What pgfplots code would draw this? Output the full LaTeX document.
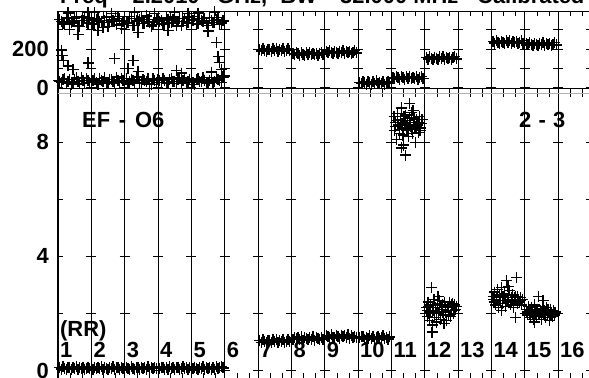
\documentclass[border=0pt]{standalone}
\usepackage{fontspec}
\setmainfont{Liberation Sans}
\usepackage{pgfplots}
\pgfplotsset{compat=1.18}
\begin{document}
\begin{tikzpicture}[font=\fontsize{22}{24}\selectfont\bfseries]
\pgfplotsset{
  cls/.style={
    scale only axis, width=533.333bp,
    xmin=0, xmax=16,
    xtick={0,...,16}, xticklabels={},
    minor xtick={0.37,0.73,1.37,1.73,2.37,2.73,3.37,3.73,4.37,4.73,5.37,5.73,6.37,6.73,7.37,7.73,8.37,8.73,9.37,9.73,10.37,10.73,11.37,11.73,12.37,12.73,13.37,13.73,14.37,14.73,15.37,15.73},
    major tick length=0pt,
    xmajorgrids, ymajorgrids,
    x grid style={black, line width=0.9bp},
    y grid style={black, line width=0.9bp, dash pattern=on 10bp off 23.333bp, dash phase=5bp},
    axis line style={black, line width=1.1bp},
    every minor tick/.append style={black, line width=0.9bp},
    yticklabel style={font=\fontsize{22}{24}\selectfont\bfseries, inner sep=0pt},
    yticklabel shift=9bp,
  },
  pts/.style={black, only marks, mark=+, mark size=5.5bp, mark options={line width=1.3bp}},
}
% ---------------- upper panel (phase) ----------------
\begin{axis}[cls, at={(58bp,-11.7bp)}, anchor=north west, height=76.8bp,
  ymin=-5, ymax=394, ytick={0,100,200,300}, yticklabels={0,,200,},
  minor tick length=4bp, xtick pos=right]
% columns 1-5: upper band
\addplot[pts] coordinates {(0.05,352)(0.15,335)(0.25,361)(0.35,328)(0.45,345)(0.55,370)(0.65,318)(0.75,349)(0.85,338)(0.95,362)
(1.05,331)(1.15,355)(1.25,342)(1.35,312)(1.45,366)(1.55,339)(1.65,350)(1.75,325)(1.85,358)(1.95,344)
(2.05,336)(2.15,368)(2.25,322)(2.35,347)(2.45,356)(2.55,333)(2.65,372)(2.75,340)(2.85,327)(2.95,353)
(3.05,345)(3.15,330)(3.25,364)(3.35,338)(3.45,351)(3.55,320)(3.65,359)(3.75,343)(3.85,334)(3.95,367)
(4.05,348)(4.15,326)(4.25,357)(4.35,341)(4.45,332)(4.55,363)(4.65,337)(4.75,354)(4.85,329)(4.95,346)
(0.30,388)(0.90,392)(1.60,386)(2.30,390)(2.90,385)(3.50,391)(4.20,387)(4.70,393)(1.10,389)(3.90,386)
(0.35,300)(0.60,275)(1.20,295)(1.90,305)(2.40,285)(3.30,298)(4.50,293)};
\addplot[pts] coordinates {(0.10,344)(0.20,329)(0.30,357)(0.40,336)(0.50,362)(0.60,321)(0.70,348)(0.80,367)(0.90,333)(1.00,351)
(1.10,326)(1.20,360)(1.30,339)(1.40,347)(1.50,316)(1.60,355)(1.70,342)(1.80,369)(1.90,330)(2.00,350)
(2.10,337)(2.20,358)(2.30,324)(2.40,345)(2.50,365)(2.60,334)(2.70,352)(2.80,319)(2.90,341)(3.00,361)
(3.10,349)(3.20,327)(3.30,356)(3.40,336)(3.50,366)(3.60,343)(3.70,323)(3.80,358)(3.90,339)(4.00,353)
(4.10,368)(4.20,331)(4.30,346)(4.40,360)(4.50,324)(4.60,350)(4.70,338)(4.80,364)(4.90,335)};
% columns 1-5: lower band
\addplot[pts] coordinates {(0.02,38)(0.10,25)(0.20,46)(0.30,30)(0.40,18)(0.50,42)(0.60,33)(0.70,52)(0.80,21)(0.90,37)
(1.00,29)(1.10,45)(1.20,15)(1.30,36)(1.40,50)(1.50,27)(1.60,40)(1.70,22)(1.80,34)(1.90,48)
(2.00,31)(2.10,19)(2.20,43)(2.30,28)(2.40,55)(2.50,24)(2.60,39)(2.70,47)(2.80,16)(2.90,35)
(3.00,44)(3.10,26)(3.20,37)(3.30,20)(3.40,49)(3.50,32)(3.60,41)(3.70,23)(3.80,53)(3.90,30)
(4.00,36)(4.10,17)(4.20,45)(4.30,29)(4.40,38)(4.50,22)(4.60,51)(4.70,33)(4.80,42)(4.90,26)(4.98,60)
(0.10,195)(0.12,165)(0.16,140)(0.30,112)(0.45,95)(0.90,128)(1.70,150)(2.10,100)(2.25,140)(2.40,85)
(3.55,90)(3.70,75)(4.75,235)(4.80,160)(4.85,130)(4.90,95)(4.60,80)};
\addplot[pts] coordinates {(0.05,31)(0.15,44)(0.25,22)(0.35,40)(0.45,28)(0.55,50)(0.65,19)(0.75,36)(0.85,47)(0.95,26)
(1.05,39)(1.15,24)(1.25,48)(1.35,30)(1.45,21)(1.55,43)(1.65,33)(1.75,54)(1.85,25)(1.95,38)
(2.05,46)(2.15,29)(2.25,35)(2.35,52)(2.45,23)(2.55,41)(2.65,30)(2.75,18)(2.85,45)(2.95,27)
(3.05,37)(3.15,49)(3.25,24)(3.35,42)(3.45,31)(3.55,20)(3.65,46)(3.75,34)(3.85,27)(3.95,44)
(4.05,25)(4.15,40)(4.25,32)(4.35,51)(4.45,21)(4.55,39)(4.65,28)(4.75,47)(4.85,36)(4.95,55)};
% column 7
\addplot[pts] coordinates {(6.05,197)(6.10,190)(6.15,203)(6.20,193)(6.25,187)(6.30,200)(6.35,196)(6.40,186)(6.45,202)(6.50,192)(6.55,205)(6.60,189)(6.65,198)(6.70,194)(6.75,201)(6.80,188)(6.85,195)(6.90,204)(6.95,191)};
% column 8
\addplot[pts] coordinates {(7.05,178)(7.10,171)(7.15,182)(7.20,175)(7.25,169)(7.30,180)(7.35,174)(7.40,168)(7.45,181)(7.50,173)(7.55,184)(7.60,170)(7.65,177)(7.70,172)(7.75,179)(7.80,167)(7.85,176)(7.90,183)(7.95,172)};
% column 9
\addplot[pts] coordinates {(8.05,186)(8.10,180)(8.15,190)(8.20,183)(8.25,177)(8.30,188)(8.35,182)(8.40,176)(8.45,189)(8.50,181)(8.55,192)(8.60,178)(8.65,185)(8.70,180)(8.75,187)(8.80,175)(8.85,184)(8.90,191)(8.95,180)};
% column 10
\addplot[pts] coordinates {(9.05,27)(9.10,20)(9.15,32)(9.20,24)(9.25,18)(9.30,30)(9.35,26)(9.40,17)(9.45,31)(9.50,22)(9.55,34)(9.60,19)(9.65,28)(9.70,23)(9.75,30)(9.80,17)(9.85,25)(9.90,33)(9.95,21)};
% column 11
\addplot[pts] coordinates {(10.05,53)(10.10,47)(10.15,57)(10.20,50)(10.25,44)(10.30,55)(10.35,51)(10.40,43)(10.45,56)(10.50,48)(10.55,59)(10.60,46)(10.65,52)(10.70,49)(10.75,55)(10.80,44)(10.85,51)(10.90,58)(10.95,47)};
% column 12
\addplot[pts] coordinates {(11.05,155)(11.10,148)(11.15,160)(11.20,152)(11.25,145)(11.30,158)(11.35,153)(11.40,144)(11.45,159)(11.50,150)(11.55,162)(11.60,147)(11.65,156)(11.70,151)(11.75,157)(11.80,146)(11.85,154)(11.90,161)(11.95,149)};
% column 14
\addplot[pts] coordinates {(13.05,238)(13.10,231)(13.15,243)(13.20,234)(13.25,228)(13.30,241)(13.35,236)(13.40,227)(13.45,242)(13.50,232)(13.55,245)(13.60,230)(13.65,238)(13.70,233)(13.75,240)(13.80,229)(13.85,236)(13.90,244)(13.95,231)};
% column 15
\addplot[pts] coordinates {(14.05,228)(14.10,221)(14.15,232)(14.20,224)(14.25,218)(14.30,230)(14.35,226)(14.40,217)(14.45,231)(14.50,222)(14.55,234)(14.60,220)(14.65,227)(14.70,223)(14.75,229)(14.80,219)(14.85,225)(14.90,233)(14.95,221)};
\end{axis}
% ---------------- lower panel (amplitude) ----------------
\begin{axis}[cls, at={(58bp,-88.5bp)}, anchor=north west, height=292.6bp,
  ymin=-0.37, ymax=9.88, ytick={0,2,4,6,8}, yticklabels={0,,4,,8},
  minor tick length=8bp]
\draw[gray!60, line width=0.8bp] (axis cs:0,9.71) -- (axis cs:16,9.71);
% columns 1-5
\addplot[pts] coordinates {(0.05,0.10)(0.10,0.05)(0.15,0.13)(0.20,0.07)(0.25,0.04)(0.30,0.10)(0.35,0.09)(0.40,0.03)(0.45,0.12)(0.50,0.06)(0.55,0.13)(0.60,0.04)(0.65,0.09)(0.70,0.07)(0.75,0.11)(0.80,0.03)(0.85,0.08)(0.90,0.12)(0.95,0.06)};
\addplot[pts] coordinates {(1.05,0.04)(1.10,0.09)(1.15,0.07)(1.20,0.12)(1.25,0.06)(1.30,0.13)(1.35,0.03)(1.40,0.10)(1.45,0.08)(1.50,0.05)(1.55,0.11)(1.60,0.07)(1.65,0.13)(1.70,0.03)(1.75,0.10)(1.80,0.09)(1.85,0.04)(1.90,0.12)(1.95,0.06)};
\addplot[pts] coordinates {(2.05,0.11)(2.10,0.08)(2.15,0.04)(2.20,0.13)(2.25,0.06)(2.30,0.04)(2.35,0.10)(2.40,0.09)(2.45,0.03)(2.50,0.12)(2.55,0.07)(2.60,0.10)(2.65,0.05)(2.70,0.13)(2.75,0.03)(2.80,0.12)(2.85,0.07)(2.90,0.09)(2.95,0.06)};
\addplot[pts] coordinates {(3.05,0.07)(3.10,0.12)(3.15,0.10)(3.20,0.03)(3.25,0.09)(3.30,0.05)(3.35,0.13)(3.40,0.06)(3.45,0.11)(3.50,0.03)(3.55,0.09)(3.60,0.12)(3.65,0.04)(3.70,0.08)(3.75,0.13)(3.80,0.06)(3.85,0.10)(3.90,0.04)(3.95,0.10)};
\addplot[pts] coordinates {(4.05,0.06)(4.10,0.12)(4.15,0.08)(4.20,0.03)(4.25,0.11)(4.30,0.07)(4.35,0.13)(4.40,0.04)(4.45,0.10)(4.50,0.07)(4.55,0.12)(4.60,0.03)(4.65,0.09)(4.70,0.05)(4.75,0.13)(4.80,0.07)(4.85,0.10)(4.90,0.14)(4.95,0.09)};
% columns 7-10
\addplot[pts] coordinates {(6.05,1.05)(6.10,0.99)(6.15,1.09)(6.20,1.02)(6.25,0.98)(6.30,1.06)(6.35,1.04)(6.40,0.97)(6.45,1.08)(6.50,1.01)(6.55,1.10)(6.60,0.99)(6.65,1.05)(6.70,1.02)(6.75,1.07)(6.80,0.98)(6.85,1.03)(6.90,1.09)(6.95,1.00)};
\addplot[pts] coordinates {(7.05,1.08)(7.10,1.14)(7.15,1.11)(7.20,1.17)(7.25,1.09)(7.30,1.18)(7.35,1.06)(7.40,1.14)(7.45,1.12)(7.50,1.08)(7.55,1.15)(7.60,1.10)(7.65,1.18)(7.70,1.06)(7.75,1.15)(7.80,1.13)(7.85,1.07)(7.90,1.16)(7.95,1.10)};
\addplot[pts] coordinates {(8.05,1.22)(8.10,1.19)(8.15,1.14)(8.20,1.25)(8.25,1.17)(8.30,1.15)(8.35,1.22)(8.40,1.20)(8.45,1.13)(8.50,1.24)(8.55,1.18)(8.60,1.21)(8.65,1.16)(8.70,1.25)(8.75,1.13)(8.80,1.23)(8.85,1.17)(8.90,1.20)(8.95,1.16)};
\addplot[pts] coordinates {(9.05,1.14)(9.10,1.20)(9.15,1.18)(9.20,1.09)(9.25,1.16)(9.30,1.12)(9.35,1.21)(9.40,1.13)(9.45,1.18)(9.50,1.09)(9.55,1.16)(9.60,1.19)(9.65,1.11)(9.70,1.15)(9.75,1.21)(9.80,1.12)(9.85,1.17)(9.90,1.10)(9.95,1.18)};
% column 11
\addplot[pts] coordinates {(10.08,8.9)(10.10,8.4)(10.13,8.7)(10.16,8.1)(10.19,9.0)(10.22,8.6)(10.25,8.3)(10.28,8.8)(10.30,9.2)(10.33,8.5)(10.36,7.9)(10.39,8.7)(10.42,8.95)(10.45,8.4)(10.48,8.75)(10.51,8.2)(10.54,8.85)(10.57,8.55)(10.60,9.05)(10.63,8.3)(10.66,8.7)(10.69,8.5)(10.72,8.0)(10.75,8.8)(10.78,8.6)(10.81,8.35)(10.84,8.9)(10.87,8.5)(10.90,8.65)(10.42,7.55)(10.55,9.35)(10.30,7.8)
(10.12,8.55)(10.18,8.75)(10.24,8.45)(10.32,8.65)(10.38,8.9)(10.44,8.6)(10.50,8.5)(10.56,8.7)(10.62,8.45)(10.68,8.85)(10.74,8.55)(10.80,8.7)(10.86,8.4)(10.92,8.8)(10.35,8.25)(10.65,9.1)};
% column 12
\addplot[pts] coordinates {(11.05,2.2)(11.08,1.9)(11.10,2.4)(11.13,2.0)(11.15,1.75)(11.18,2.3)(11.20,2.9)(11.23,1.6)(11.25,2.1)(11.28,2.5)(11.30,1.85)(11.33,2.2)(11.36,1.7)(11.39,2.35)(11.42,2.0)(11.45,2.45)(11.48,1.8)(11.51,2.15)(11.54,2.3)(11.57,1.95)(11.60,2.4)(11.63,2.05)(11.66,1.75)(11.69,2.25)(11.72,2.1)(11.75,2.4)(11.78,1.9)(11.81,2.2)(11.84,2.35)(11.87,2.0)(11.90,2.3)(11.93,2.15)(11.22,1.35)
(11.07,2.1)(11.12,2.25)(11.17,2.05)(11.27,2.3)(11.35,2.0)(11.44,2.2)(11.53,2.05)(11.62,2.25)(11.71,1.95)(11.80,2.3)(11.89,2.1)(11.95,2.25)(11.40,2.6)(11.58,1.65)};
% column 14
\addplot[pts] coordinates {(13.05,2.6)(13.08,2.4)(13.10,2.75)(13.13,2.3)(13.16,2.55)(13.19,2.85)(13.22,2.2)(13.25,2.65)(13.28,2.45)(13.31,2.9)(13.34,2.35)(13.37,2.6)(13.40,2.7)(13.43,2.25)(13.46,3.15)(13.49,2.5)(13.52,2.4)(13.55,2.8)(13.58,2.3)(13.61,2.55)(13.64,2.65)(13.67,2.2)(13.70,2.45)(13.73,2.6)(13.76,3.25)(13.79,2.35)(13.82,2.5)(13.85,2.4)(13.88,2.55)(13.91,2.3)(13.72,1.85)
(13.07,2.5)(13.15,2.45)(13.24,2.55)(13.33,2.6)(13.42,2.45)(13.51,2.65)(13.60,2.4)(13.69,2.55)(13.78,2.6)(13.87,2.45)(13.93,2.5)(13.50,2.95)(13.30,2.1)};
% column 15
\addplot[pts] coordinates {(14.05,2.15)(14.08,1.95)(14.11,2.25)(14.14,2.0)(14.17,1.85)(14.20,2.2)(14.23,2.05)(14.26,1.8)(14.29,2.3)(14.32,2.0)(14.35,1.9)(14.38,2.15)(14.41,2.6)(14.44,1.95)(14.47,2.1)(14.50,1.8)(14.53,2.25)(14.56,2.0)(14.59,2.1)(14.62,1.85)(14.65,2.2)(14.68,1.95)(14.71,2.05)(14.74,1.75)(14.77,2.15)(14.80,2.0)(14.83,1.9)(14.86,2.1)(14.89,1.95)(14.92,2.05)
(14.07,2.05)(14.16,2.1)(14.25,1.95)(14.34,2.1)(14.43,2.0)(14.52,2.05)(14.61,2.0)(14.70,2.15)(14.79,1.95)(14.88,2.05)(14.55,2.45)(14.30,1.7)};
% labels
\node[anchor=base west, inner sep=0pt] at (axis cs:0.72,8.53) {EF\hspace{0.4em}-\hspace{0.4em}O6};
\node[anchor=base west, inner sep=0pt] at (axis cs:13.83,8.53) {2\hspace{0.33em}-\hspace{0.33em}3};
\node[anchor=base west, inner sep=0pt] at (axis cs:0.06,1.18) {(RR)};
\node[anchor=base west, inner sep=0pt] at (axis cs:0.06,0.44) {1};
\node[anchor=base west, inner sep=0pt] at (axis cs:1.06,0.44) {2};
\node[anchor=base west, inner sep=0pt] at (axis cs:2.06,0.44) {3};
\node[anchor=base west, inner sep=0pt] at (axis cs:3.06,0.44) {4};
\node[anchor=base west, inner sep=0pt] at (axis cs:4.06,0.44) {5};
\node[anchor=base west, inner sep=0pt] at (axis cs:5.06,0.44) {6};
\node[anchor=base west, inner sep=0pt] at (axis cs:6.06,0.44) {7};
\node[anchor=base west, inner sep=0pt] at (axis cs:7.06,0.44) {8};
\node[anchor=base west, inner sep=0pt] at (axis cs:8.06,0.44) {9};
\node[anchor=base west, inner sep=0pt] at (axis cs:9.06,0.44) {10};
\node[anchor=base west, inner sep=0pt] at (axis cs:10.06,0.44) {11};
\node[anchor=base west, inner sep=0pt] at (axis cs:11.06,0.44) {12};
\node[anchor=base west, inner sep=0pt] at (axis cs:12.06,0.44) {13};
\node[anchor=base west, inner sep=0pt] at (axis cs:13.06,0.44) {14};
\node[anchor=base west, inner sep=0pt] at (axis cs:14.06,0.44) {15};
\node[anchor=base west, inner sep=0pt] at (axis cs:15.06,0.44) {16};
\end{axis}
% title (only its lower part lies inside the page)
\node[anchor=base west, inner sep=0pt] at (60bp,-3bp) {Freq = 2.2010};
\node[anchor=base west, inner sep=0pt] at (217bp,-3bp) {GHz,};
\node[anchor=base east, inner sep=0pt] at (336bp,-3bp) {BW =};
\node[anchor=base west, inner sep=0pt] at (340bp,-3bp) {32.000 MHz};
\node[anchor=base west, inner sep=0pt] at (477bp,-3bp) {Calibrated};
\pgfresetboundingbox
\useasboundingbox (0,0) rectangle (589bp,-378bp);
\end{tikzpicture}
\end{document}
